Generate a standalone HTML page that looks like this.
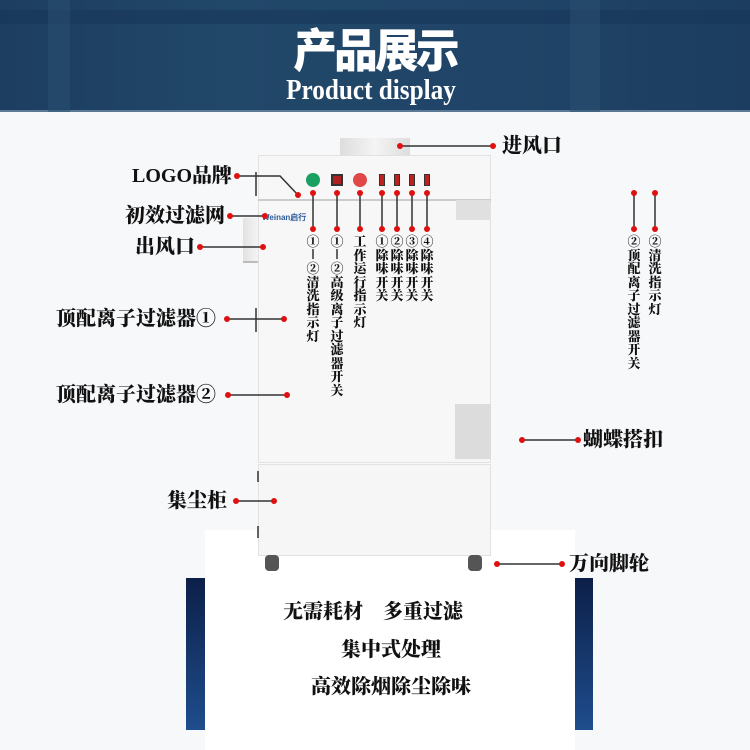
<!DOCTYPE html>
<html><head><meta charset="utf-8"><style>
*{margin:0;padding:0;box-sizing:border-box}
body{width:750px;height:750px;overflow:hidden;background:#f7f8fa;position:relative;font-family:"Liberation Serif","Noto Serif CJK SC",serif}
.a{position:absolute}
.lab{position:absolute;font-weight:900;font-size:20px;color:#111;white-space:nowrap;line-height:24px}
.v{position:absolute;font-weight:900;font-size:13px;color:#111;width:14px;line-height:13.5px;text-align:center;word-break:break-all}
</style></head><body>
<div class="a" style="left:0;top:0;width:750px;height:112px;background:linear-gradient(90deg,#1d3e60,#214769 30%,#1f4467 70%,#1c3d5f);border-bottom:2px solid #5c7a96"></div>
<div class="a" style="left:0;top:10px;width:750px;height:14px;background:#17375a;opacity:.6"></div>
<div class="a" style="left:48px;top:0;width:22px;height:112px;background:#2a4f72;opacity:.5"></div>
<div class="a" style="left:570px;top:0;width:30px;height:112px;background:#2a4f72;opacity:.5"></div>
<div class="a" style="left:0;top:22px;width:750px;text-align:center;font-family:'Noto Sans CJK SC',sans-serif;font-weight:900;font-size:46px;color:#fff;line-height:52px;letter-spacing:-3px;transform:scaleX(0.95)">产品展示</div>
<div class="a" style="left:0;top:75px;width:742px;text-align:center;font-size:28px;font-weight:bold;color:#fff;line-height:32px;transform:scaleX(0.9)">Product display</div>

<div class="a" style="left:205px;top:530px;width:370px;height:220px;background:#fff"></div>
<div class="a" style="left:186px;top:578px;width:19px;height:152px;background:linear-gradient(#0c1f48,#1f4d8d)"></div>
<div class="a" style="left:575px;top:578px;width:18px;height:152px;background:linear-gradient(#0c1f48,#1f4d8d)"></div>

<div class="a" style="left:340px;top:138px;width:70px;height:18px;background:linear-gradient(90deg,#ddd,#f4f4f4,#ddd)"></div>
<div class="a" style="left:243px;top:218px;width:16px;height:45px;background:linear-gradient(90deg,#e2e2e2,#f5f5f5);border-bottom:2px solid #bbb"></div>
<div class="a" style="left:258px;top:155px;width:233px;height:308px;background:#f7f7f7;border:1px solid #e2e2e2"></div>
<div class="a" style="left:258px;top:199px;width:233px;height:2px;background:#ccc"></div>
<div class="a" style="left:258px;top:464px;width:233px;height:92px;background:#f6f6f6;border:1px solid #e2e2e2"></div>
<div class="a" style="left:455px;top:404px;width:36px;height:55px;background:#dcdcdc"></div>
<div class="a" style="left:456px;top:200px;width:34px;height:20px;background:#e0e0e0"></div>
<div class="a" style="left:265px;top:555px;width:14px;height:16px;background:#555;border-radius:4px"></div>
<div class="a" style="left:468px;top:555px;width:14px;height:16px;background:#555;border-radius:4px"></div>
<div class="a" style="left:262px;top:212px;font-family:'Liberation Sans';font-size:8px;font-weight:bold;color:#2a5a9a">Weinan启行</div>
<div class="a" style="left:306px;top:173px;width:14px;height:14px;border-radius:50%;background:#1aa060"></div>
<div class="a" style="left:331px;top:174px;width:12px;height:12px;background:#b02020;border:2px solid #333"></div>
<div class="a" style="left:353px;top:173px;width:14px;height:14px;border-radius:50%;background:#e04848"></div>
<div class="a" style="left:379px;top:174px;width:6px;height:12px;background:#c02020;border:1px solid #333"></div>
<div class="a" style="left:394px;top:174px;width:6px;height:12px;background:#c02020;border:1px solid #333"></div>
<div class="a" style="left:409px;top:174px;width:6px;height:12px;background:#c02020;border:1px solid #333"></div>
<div class="a" style="left:424px;top:174px;width:6px;height:12px;background:#c02020;border:1px solid #333"></div>

<svg class="a" style="left:0;top:0" width="750" height="750">
<g stroke="#333" stroke-width="1.5" fill="none">
<polyline points="237,176 280,176 298,195"/><line x1="256" y1="172" x2="256" y2="196"/>
<line x1="230" y1="216" x2="265" y2="216"/>
<line x1="200" y1="247" x2="263" y2="247"/>
<line x1="227" y1="319" x2="284" y2="319"/><line x1="256" y1="308" x2="256" y2="332"/>
<line x1="228" y1="395" x2="287" y2="395"/>
<line x1="236" y1="501" x2="274" y2="501"/><line x1="258" y1="471" x2="258" y2="482"/><line x1="258" y1="526" x2="258" y2="538"/>
<line x1="400" y1="146" x2="493" y2="146"/>
<line x1="522" y1="440" x2="578" y2="440"/>
<line x1="497" y1="564" x2="562" y2="564"/>
<line x1="313" y1="193" x2="313" y2="229"/><line x1="337" y1="193" x2="337" y2="229"/><line x1="360" y1="193" x2="360" y2="229"/>
<line x1="382" y1="193" x2="382" y2="229"/><line x1="397" y1="193" x2="397" y2="229"/><line x1="412" y1="193" x2="412" y2="229"/><line x1="427" y1="193" x2="427" y2="229"/>
<line x1="634" y1="193" x2="634" y2="229"/><line x1="655" y1="193" x2="655" y2="229"/>
<line x1="313" y1="249" x2="313" y2="259"/><line x1="337" y1="249" x2="337" y2="259"/>
</g>
<g fill="#e01010">
<circle cx="237" cy="176" r="3"/><circle cx="298" cy="195" r="3"/>
<circle cx="230" cy="216" r="3"/><circle cx="265" cy="216" r="3"/>
<circle cx="200" cy="247" r="3"/><circle cx="263" cy="247" r="3"/>
<circle cx="227" cy="319" r="3"/><circle cx="284" cy="319" r="3"/>
<circle cx="228" cy="395" r="3"/><circle cx="287" cy="395" r="3"/>
<circle cx="236" cy="501" r="3"/><circle cx="274" cy="501" r="3"/>
<circle cx="400" cy="146" r="3"/><circle cx="493" cy="146" r="3"/>
<circle cx="522" cy="440" r="3"/><circle cx="578" cy="440" r="3"/>
<circle cx="497" cy="564" r="3"/><circle cx="562" cy="564" r="3"/>
<circle cx="313" cy="193" r="3"/><circle cx="313" cy="229" r="3"/>
<circle cx="337" cy="193" r="3"/><circle cx="337" cy="229" r="3"/>
<circle cx="360" cy="193" r="3"/><circle cx="360" cy="229" r="3"/>
<circle cx="382" cy="193" r="3"/><circle cx="382" cy="229" r="3"/>
<circle cx="397" cy="193" r="3"/><circle cx="397" cy="229" r="3"/>
<circle cx="412" cy="193" r="3"/><circle cx="412" cy="229" r="3"/>
<circle cx="427" cy="193" r="3"/><circle cx="427" cy="229" r="3"/>
<circle cx="634" cy="193" r="3"/><circle cx="634" cy="229" r="3"/>
<circle cx="655" cy="193" r="3"/><circle cx="655" cy="229" r="3"/>
</g>
</svg>

<div class="lab" style="right:518px;top:164px">LOGO品牌</div>
<div class="lab" style="right:525px;top:204px">初效过滤网</div>
<div class="lab" style="right:555px;top:235px">出风口</div>
<div class="lab" style="right:534px;top:307px">顶配离子过滤器①</div>
<div class="lab" style="right:534px;top:383px">顶配离子过滤器②</div>
<div class="lab" style="right:523px;top:489px">集尘柜</div>
<div class="lab" style="left:502px;top:134px">进风口</div>
<div class="lab" style="left:583px;top:428px">蝴蝶搭扣</div>
<div class="lab" style="left:569px;top:552px">万向脚轮</div>

<div class="v" style="left:306px;top:235px">①<br><br>②清洗指示灯</div>
<div class="v" style="left:330px;top:235px">①<br><br>②高级离子过滤器开关</div>
<div class="v" style="left:353px;top:235px">工作运行指示灯</div>
<div class="v" style="left:375px;top:235px">①除味开关</div>
<div class="v" style="left:390px;top:235px">②除味开关</div>
<div class="v" style="left:405px;top:235px">③除味开关</div>
<div class="v" style="left:420px;top:235px">④除味开关</div>
<div class="v" style="left:627px;top:235px">②顶配离子过滤器开关</div>
<div class="v" style="left:648px;top:235px">②清洗指示灯</div>

<div class="lab" style="left:283px;top:600px">无需耗材&nbsp;&nbsp;&nbsp;&nbsp;多重过滤</div>
<div class="lab" style="left:341px;top:638px">集中式处理</div>
<div class="lab" style="left:311px;top:675px">高效除烟除尘除味</div>
</body></html>
